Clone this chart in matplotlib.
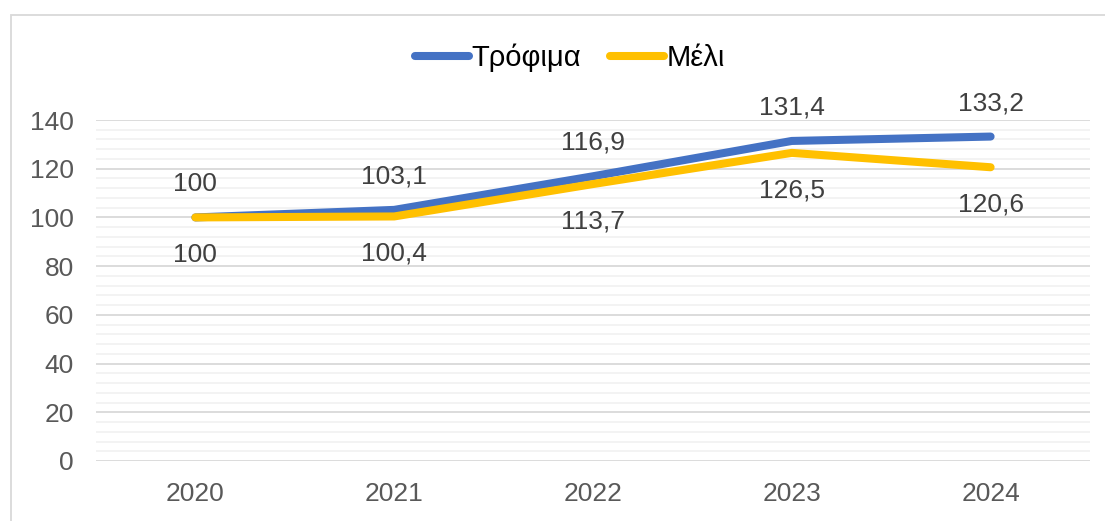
import matplotlib.pyplot as plt
from matplotlib.patches import Rectangle
from matplotlib.ticker import MultipleLocator

plt.rcParams['font.family'] = ['Liberation Sans', 'DejaVu Sans']

# Δεδομένα
years = ['2020', '2021', '2022', '2023', '2024']
trofima = [100, 103.1, 116.9, 131.4, 133.2]
meli = [100, 100.4, 113.7, 126.5, 120.6]


def fmt(v):
    if v == int(v):
        return str(int(v))
    return f'{v:.1f}'.replace('.', ',')


W, H = 1105, 521
fig = plt.figure(figsize=(W / 100, H / 100), dpi=100)
ax = fig.add_axes([96 / W, 1 - 461 / H, (1090 - 96) / W, (461 - 120) / H])

# Πλαίσιο γραφήματος
fig.patches.append(Rectangle((11 / W, -0.1), 1.2, 1 - 15 / H + 0.1,
                             transform=fig.transFigure, fill=False,
                             edgecolor='#d9d9d9', linewidth=1.3))

x = range(len(years))
ax.plot(x, trofima, color='#4472c4', lw=5.8, solid_capstyle='round',
        solid_joinstyle='round', label='Τρόφιμα', zorder=3)
ax.plot(x, meli, color='#ffc000', lw=5.8, solid_capstyle='round',
        solid_joinstyle='round', label='Μέλι', zorder=4)

for i in x:
    ax.annotate(fmt(trofima[i]), (i, trofima[i]), xytext=(0, 24),
                textcoords='offset points', ha='center', va='center',
                fontsize=19, color='#404040')
    ax.annotate(fmt(meli[i]), (i, meli[i]), xytext=(0, -27),
                textcoords='offset points', ha='center', va='center',
                fontsize=19, color='#404040')

ax.set_xlim(-0.5, 4.5)
ax.set_ylim(0, 140)
ax.set_xticks(list(x))
ax.set_xticklabels(years)
ax.yaxis.set_major_locator(MultipleLocator(20))
ax.yaxis.set_minor_locator(MultipleLocator(4))
ax.grid(which='major', axis='y', color='#d9d9d9', lw=1.3)
ax.grid(which='minor', axis='y', color='#f2f2f2', lw=1.3)
ax.set_axisbelow(True)
ax.tick_params(which='both', length=0)
ax.tick_params(axis='y', pad=16, labelsize=19, labelcolor='#595959')
ax.tick_params(axis='x', pad=15, labelsize=19, labelcolor='#595959')
for s in ax.spines.values():
    s.set_visible(False)

leg = fig.legend(loc='center', bbox_to_anchor=(570 / W, 1 - 58 / H), ncol=2,
                 frameon=False, fontsize=21, handlelength=1.85,
                 handletextpad=0.1, columnspacing=1.0)
for t in leg.get_texts():
    t.set_color('#000000')

fig.savefig('out.png', dpi=100)
